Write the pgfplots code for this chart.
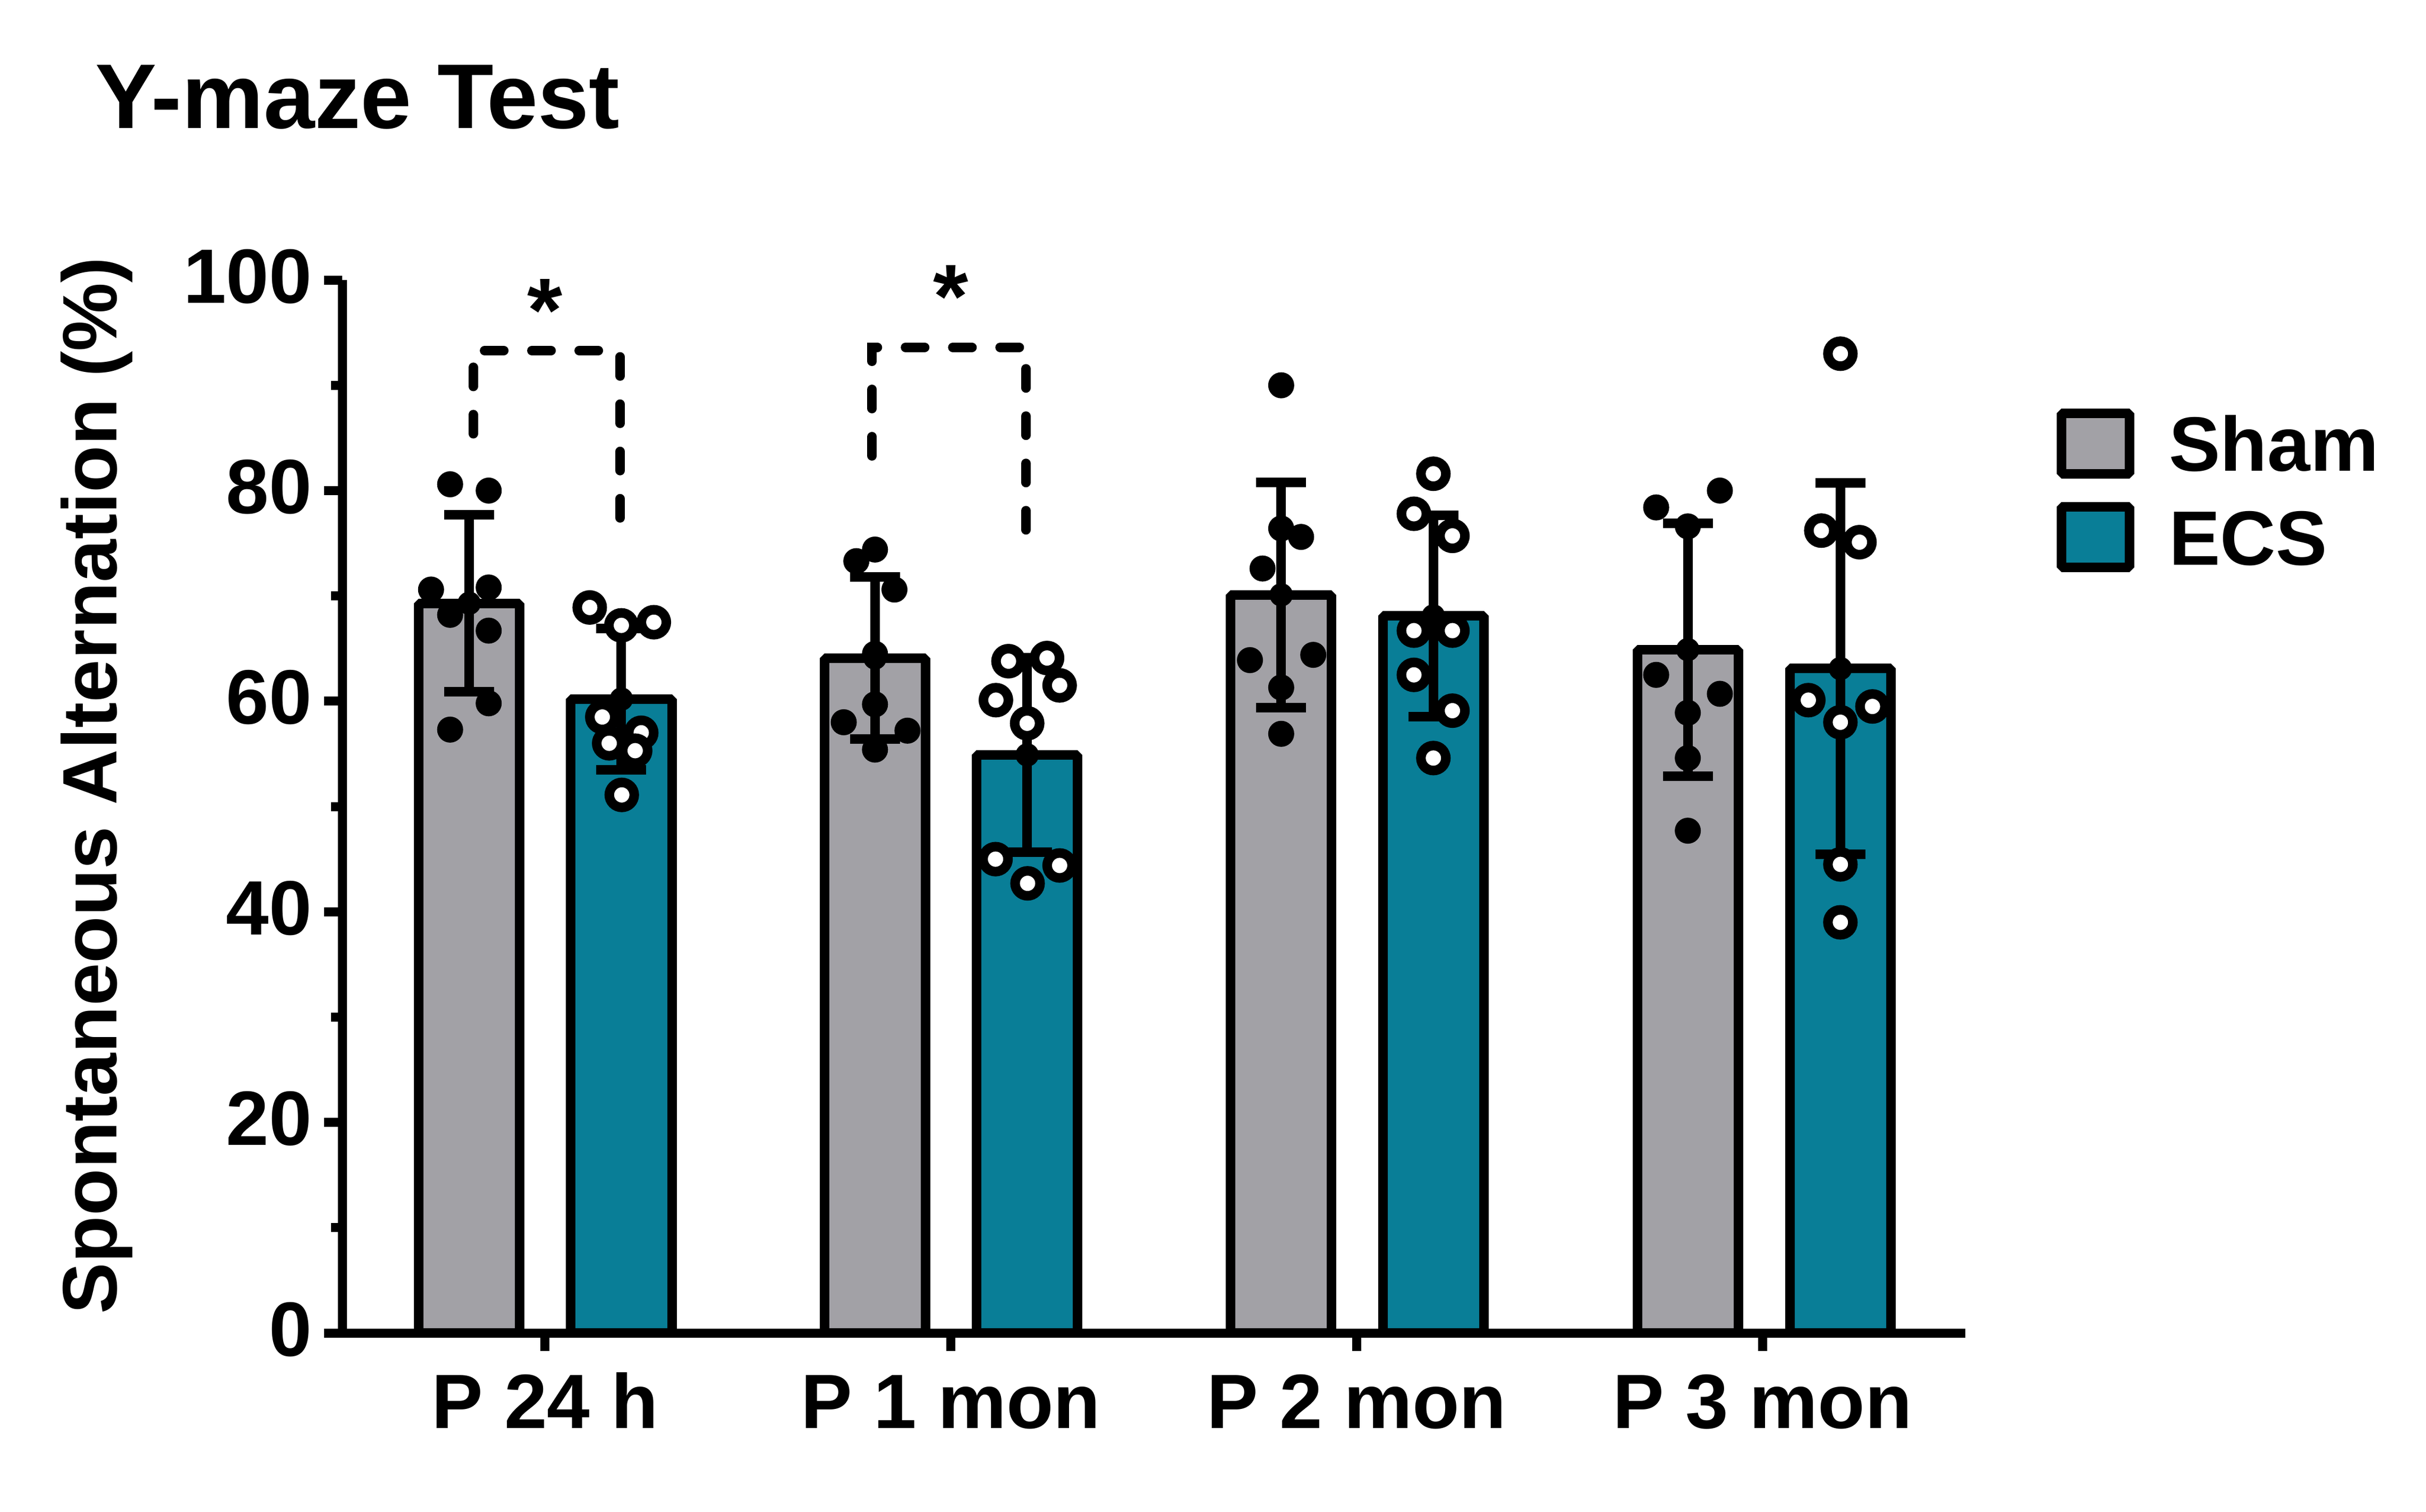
\documentclass[border=0pt]{standalone}
\usepackage{fontspec}
\setmainfont{Liberation Sans}
\usepackage{pgfplots}
\usepackage{pgfplotstable}
\pgfplotsset{compat=1.18}
\definecolor{shamgray}{RGB}{162,161,166}
\definecolor{ecsteal}{RGB}{9,126,151}
\newcommand{\lf}{\fontsize{14.5}{17}\selectfont\bfseries}

\pgfplotstableread{
x y
-0.234 80.6
-0.139 80.0
-0.281 70.6
-0.139 70.8
-0.234 68.2
-0.139 66.7
-0.139 59.8
-0.234 57.3
0.813 74.4
0.767 73.3
0.861 70.6
0.813 64.5
0.813 59.7
0.736 58.0
0.893 57.2
0.813 55.4
1.814 90.0
1.814 76.4
1.863 75.6
1.768 72.6
1.737 63.9
1.893 64.4
1.814 61.3
1.814 56.9
2.738 78.4
2.895 80.0
2.816 76.6
2.738 62.5
2.895 60.7
2.816 58.9
2.816 54.6
2.816 47.7
}\shampts

\pgfplotstableread{
x y
0.110 68.9
0.188 67.2
0.268 67.5
0.141 58.5
0.237 57.0
0.158 56.0
0.222 55.3
0.189 51.1
1.142 63.8
1.237 64.1
1.268 61.5
1.111 60.1
1.188 57.9
1.110 45.0
1.268 44.4
1.189 42.7
2.189 81.6
2.141 77.8
2.236 75.7
2.141 66.7
2.236 66.7
2.141 62.5
2.236 59.1
2.189 54.6
3.192 93.0
3.145 76.2
3.239 75.1
3.113 60.1
3.271 59.5
3.192 58.0
3.192 44.5
3.192 39.0
}\ecspts

\begin{document}
\begin{tikzpicture}
\path[use as bounding box] (0,0) rectangle (456.6pt,284.5pt);
\begin{axis}[
  at={(64.4pt,33.6pt)}, anchor=south west,
  scale only axis, width=305.5pt, height=198.2pt,
  xmin=-0.5, xmax=3.5, ymin=0, ymax=100,
  clip=false,
  axis x line=bottom, axis y line=left,
  axis line style={-, line width=1.7pt, black},
  xtick={0,1,2,3},
  xticklabels={P 24 h, P 1 mon, P 2 mon, P 3 mon},
  ytick={0,20,40,60,80,100},
  minor y tick num=1,
  tick align=outside,
  major tick length=3.4pt, minor tick length=2.1pt,
  tick style={line width=1.7pt, black},
  /pgf/number format/assume math mode=true,
  tick label style={font=\lf},
  xticklabel style={anchor=north, inner sep=0pt, text height=10.5pt, text depth=0pt, yshift=-3.8pt},
  yticklabel style={anchor=east, inner sep=0pt, text height=10.4pt, text depth=0pt, xshift=-2.1pt, yshift=0.9pt},
]
% bars
\addplot[ybar, bar width=0.249, bar shift=0pt, fill=shamgray, draw=black, line width=1.8pt, line join=bevel]
  coordinates {(-0.187,69.3) (0.813,64.1) (1.814,70.1) (2.816,64.9)};
\addplot[ybar, bar width=0.249, bar shift=0pt, fill=ecsteal, draw=black, line width=1.8pt, line join=bevel]
  coordinates {(0.188,60.2) (1.188,54.9) (2.189,68.1) (3.192,63.1)};
% individual points
\addplot[only marks, mark=*, mark size=2.3pt, mark options={fill=black, draw=black, line width=0.3pt}]
  table[x=x, y=y] {\shampts};
\addplot[only marks, mark=*, mark size=2.35pt, mark options={fill=white, draw=black, line width=1.8pt}]
  table[x=x, y=y] {\ecspts};
% error bars (mean +- SD)
\addplot[only marks, mark=none, error bars/.cd, y dir=both, y explicit,
  error bar style={draw=black, line width=1.8pt},
  error mark options={draw=black, line width=1.8pt, mark size=4.7pt, rotate=90}]
  coordinates {(-0.187,69.3) +- (0,8.4) (0.813,64.1) +- (0,7.7) (1.814,70.1) +- (0,10.7) (2.816,64.9) +- (0,12.0)};
\addplot[only marks, mark=none, error bars/.cd, y dir=both, y explicit,
  error bar style={draw=black, line width=1.8pt},
  error mark options={draw=black, line width=1.8pt, mark size=4.7pt, rotate=90}]
  coordinates {(0.188,60.2) +- (0,6.7) (1.188,54.9) +- (0,9.25) (2.189,68.1) +- (0,9.55) (3.192,63.1) +- (0,17.65)};
% significance brackets
\draw[line width=1.8pt, dash pattern=on 3.6pt off 5.3pt, line cap=round]
  (axis cs:-0.177,85.4) -- (axis cs:-0.177,93.3) -- (axis cs:0.185,93.3) -- (axis cs:0.185,76.5);
\draw[line width=1.8pt, dash pattern=on 3.6pt off 5.3pt, line cap=round]
  (axis cs:0.806,83.3) -- (axis cs:0.806,93.6) -- (axis cs:1.185,93.6) -- (axis cs:1.185,75.5);
\node[anchor=base, inner sep=0pt, font=\fontsize{17}{20}\selectfont\bfseries] at (axis cs:0,94.15) {*};
\node[anchor=base, inner sep=0pt, font=\fontsize{17}{20}\selectfont\bfseries] at (axis cs:1,95.5) {*};
\end{axis}
% title
\node[anchor=base west, inner sep=0pt, font=\fontsize{17.3}{20}\selectfont\bfseries] at (17.7pt,260.4pt) {Y-maze Test};
% y label
\node[anchor=base, rotate=90, inner sep=0pt, font=\lf] at (21.9pt,136.6pt) {Spontaneous Alternation (\%)};
% legend
\draw[line width=1.8pt, line join=bevel, fill=shamgray] (388.0pt,195.3pt) rectangle (400.8pt,206.7pt);
\node[anchor=base west, inner sep=0pt, font=\lf] at (408.0pt,195.9pt) {Sham};
\draw[line width=1.8pt, line join=bevel, fill=ecsteal] (388.0pt,177.7pt) rectangle (400.8pt,189.1pt);
\node[anchor=base west, inner sep=0pt, font=\lf] at (408.0pt,178.2pt) {ECS};
\end{tikzpicture}
\end{document}
